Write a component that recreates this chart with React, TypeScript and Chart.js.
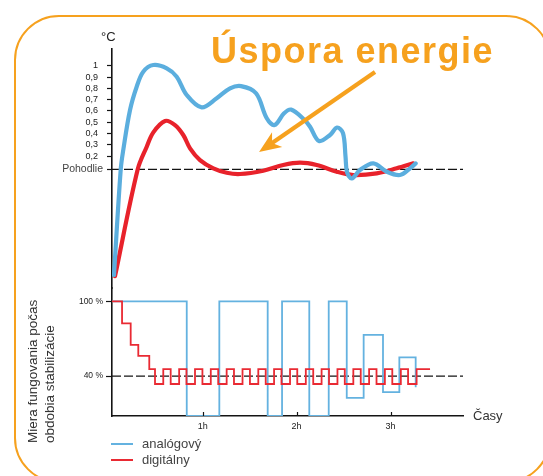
import React, { useEffect, useRef } from 'react';
import { Chart, registerables } from 'chart.js';

Chart.register(...registerables);

const FONT = '"Liberation Sans", Arial, Helvetica, sans-serif';
const ORANGE = '#F6A11E';
const BLUE = '#5BAEDE';
const RED = '#E8222B';
const BLUE_THIN = '#64B2E0';
const RED_THIN = '#E92A33';
const AXIS = '#141414';

// ---- shared x axis (hours) ----
const X_MIN = 0.034;
const X_MAX = 3.772;
const hourTicks = [1, 2, 3];
const hourLabels = ['1h', '2h', '3h'];
const xAxisTitle = 'Časy';

// ---- upper panel: temperature (°C) ----
const tempUnit = '°C';
const POHODLIE = 0.083;
const tempTicks = [POHODLIE, 0.2, 0.3, 0.4, 0.5, 0.6, 0.7, 0.8, 0.9, 1];
const tempLabels = ['Pohodlie', '0,2', '0,3', '0,4', '0,5', '0,6', '0,7', '0,8', '0,9', '1'];
const TEMP_MIN = -0.967;
const TEMP_MAX = 1.148;

const analogTempX = [0.055, 0.127, 0.154, 0.226, 0.297, 0.367, 0.474, 0.617, 0.723, 0.83, 0.989, 1.149, 1.291, 1.408, 1.568, 1.682, 1.765, 1.866, 1.94, 2.086, 2.143, 2.239, 2.356, 2.43, 2.494, 2.521, 2.537, 2.587, 2.675, 2.817, 2.96, 3.101, 3.208, 3.268];
const analogTempY = [-0.852, 0.083, 0.254, 0.608, 0.814, 0.947, 1.006, 0.977, 0.903, 0.741, 0.632, 0.712, 0.8, 0.82, 0.756, 0.535, 0.475, 0.579, 0.612, 0.519, 0.46, 0.334, 0.387, 0.453, 0.404, 0.195, 0.059, 0.003, 0.077, 0.136, 0.062, 0.033, 0.092, 0.136];

const digitalTempX = [0.066, 0.308, 0.404, 0.474, 0.599, 0.705, 0.793, 0.865, 0.971, 1.113, 1.256, 1.397, 1.645, 1.858, 2.036, 2.214, 2.427, 2.604, 2.853, 3.066, 3.243];
const digitalTempY = [-0.862, 0.083, 0.283, 0.41, 0.511, 0.475, 0.387, 0.269, 0.165, 0.092, 0.053, 0.042, 0.071, 0.121, 0.142, 0.121, 0.062, 0.033, 0.048, 0.092, 0.136];

// ---- lower panel: operating level (%) ----
const powerAxisTitle = ['Miera fungovania počas', 'obdobia stabilizácie'];
const POWER_MIN = 7.9;
const POWER_MAX = 110.7;
const powerTicks = [40, 100];
const powerLabels = ['40 %', '100 %'];

const analogPowerX = [0.034, 0.83, 1.177, 1.692, 1.845, 2.135, 2.342, 2.534, 2.714, 2.92, 3.094, 3.268];
const analogPowerY = [100, 8, 100, 8, 100, 8, 100, 22.5, 73, 27, 55, 31];

const digitalPowerX = [0.034, 0.141, 0.233, 0.314, 0.431, 0.492,
  0.58, 0.659, 0.749, 0.827, 0.918, 0.997, 1.086, 1.165, 1.255, 1.333, 1.424, 1.503, 1.592, 1.671, 1.76, 1.839,
  1.93, 2.007, 2.098, 2.177, 2.266, 2.345, 2.435, 2.513, 2.604, 2.683, 2.772, 2.851, 2.94, 3.019, 3.11, 3.187,
  3.278, 3.421];
const digitalPowerY = [100, 82.3, 65, 56.2, 45.6, 33.6,
  45.6, 33.6, 45.6, 33.6, 45.6, 33.6, 45.6, 33.6, 45.6, 33.6, 45.6, 33.6, 45.6, 33.6, 45.6, 33.6,
  45.6, 33.6, 45.6, 33.6, 45.6, 33.6, 45.6, 33.6, 45.6, 33.6, 45.6, 33.6, 45.6, 33.6, 45.6, 33.6,
  45.6, 45.6];

const seriesNames = ['analógový', 'digitálny'];
const titleText = 'Úspora energie';

// arrow annotation (hours, °C)
const arrowFrom = [2.835, 0.944];
const arrowTo = [1.6, 0.236];

const pts = (xs: number[], ys: number[]) => xs.map((x, i) => ({ x, y: ys[i] }));

const annotationPlugin = {
  id: 'annotationPlugin',
  afterDraw(chart: any) {
    const { ctx, scales, chartArea } = chart;
    const x = scales.x;
    const yt = scales.yt;
    ctx.save();
    ctx.strokeStyle = AXIS;
    ctx.lineWidth = 1.2;
    hourTicks.forEach((h) => {
      const px = Math.round(x.getPixelForValue(h)) + 0.5;
      ctx.beginPath();
      ctx.moveTo(px, chartArea.bottom);
      ctx.lineTo(px, chartArea.bottom - 4);
      ctx.stroke();
    });
    const sx = x.getPixelForValue(arrowFrom[0]);
    const sy = yt.getPixelForValue(arrowFrom[1]);
    const tx = x.getPixelForValue(arrowTo[0]);
    const ty = yt.getPixelForValue(arrowTo[1]);
    const dx = tx - sx;
    const dy = ty - sy;
    const len = Math.hypot(dx, dy);
    const ux = dx / len;
    const uy = dy / len;
    const nx = -uy;
    const ny = ux;
    const headLen = 22;
    const headW = 9;
    ctx.strokeStyle = ORANGE;
    ctx.fillStyle = ORANGE;
    ctx.lineWidth = 4.2;
    ctx.lineCap = 'butt';
    ctx.beginPath();
    ctx.moveTo(sx, sy);
    ctx.lineTo(tx - ux * 15, ty - uy * 15);
    ctx.stroke();
    ctx.beginPath();
    ctx.moveTo(tx, ty);
    ctx.lineTo(tx - ux * headLen + nx * headW, ty - uy * headLen + ny * headW);
    ctx.lineTo(tx - ux * headLen * 0.72, ty - uy * headLen * 0.72);
    ctx.lineTo(tx - ux * headLen - nx * headW, ty - uy * headLen - ny * headW);
    ctx.closePath();
    ctx.fill();
    ctx.restore();
  },
};

export default function App() {
  const canvasRef = useRef<HTMLCanvasElement | null>(null);

  useEffect(() => {
    if (!canvasRef.current) return;
    const chart = new Chart(canvasRef.current, {
      type: 'line',
      data: {
        datasets: [
          {
            label: seriesNames[0],
            data: pts(analogTempX, analogTempY),
            yAxisID: 'yt',
            borderColor: BLUE,
            borderWidth: 4.2,
            pointRadius: 0,
            tension: 0.35,
            borderCapStyle: 'round',
            borderJoinStyle: 'round',
            fill: false,
          },
          {
            label: seriesNames[1],
            data: pts(digitalTempX, digitalTempY),
            yAxisID: 'yt',
            borderColor: RED,
            borderWidth: 4.2,
            pointRadius: 0,
            tension: 0.35,
            borderCapStyle: 'round',
            borderJoinStyle: 'round',
            fill: false,
          },
          {
            label: seriesNames[1],
            data: pts(digitalPowerX, digitalPowerY),
            yAxisID: 'yb',
            stepped: 'before',
            borderColor: RED_THIN,
            borderWidth: 1.8,
            pointRadius: 0,
            fill: false,
          },
          {
            label: seriesNames[0],
            data: pts(analogPowerX, analogPowerY),
            yAxisID: 'yb',
            stepped: 'before',
            borderColor: BLUE_THIN,
            borderWidth: 1.8,
            pointRadius: 0,
            fill: false,
          },
          {
            label: tempLabels[0],
            data: pts([X_MIN, X_MAX], [POHODLIE, POHODLIE]),
            yAxisID: 'yt',
            borderColor: AXIS,
            borderWidth: 1.3,
            borderDash: [9, 3],
            pointRadius: 0,
            fill: false,
          },
          {
            label: powerLabels[0],
            data: pts([X_MIN, X_MAX], [40, 40]),
            yAxisID: 'yb',
            borderColor: AXIS,
            borderWidth: 1.3,
            borderDash: [9, 3],
            pointRadius: 0,
            fill: false,
          },
        ],
      },
      options: {
        responsive: false,
        animation: false,
        devicePixelRatio: 1,
        events: [],
        layout: { padding: { left: 42, right: 80, top: 49, bottom: 40 } },
        plugins: { legend: { display: false }, tooltip: { enabled: false }, title: { display: false } },
        scales: {
          x: {
            type: 'linear',
            position: 'bottom',
            min: X_MIN,
            max: X_MAX,
            z: 1,
            afterBuildTicks: (s: any) => { s.ticks = hourTicks.map((value) => ({ value })); },
            afterFit: (s: any) => { s.height = 20; },
            grid: { drawOnChartArea: false, drawTicks: false },
            border: { display: true, color: AXIS, width: 1.6 },
            ticks: {
              autoSkip: false,
              maxRotation: 0,
              padding: 5,
              color: '#222',
              font: { family: FONT, size: 9 },
              callback: (_v: any, i: number) => hourLabels[i],
            },
          },
          yb: {
            type: 'linear',
            position: 'left',
            stack: 'panels',
            stackWeight: 128,
            min: POWER_MIN,
            max: POWER_MAX,
            afterBuildTicks: (s: any) => { s.ticks = powerTicks.map((value) => ({ value })); },
            afterFit: (s: any) => { s.width = 70; },
            grid: { drawOnChartArea: false, drawTicks: true, tickLength: 6, tickColor: AXIS, tickWidth: 1.2 },
            border: { display: true, color: AXIS, width: 1.6 },
            ticks: {
              autoSkip: false,
              padding: 3,
              color: '#222',
              font: { family: FONT, size: 8.5 },
              callback: (_v: any, i: number) => powerLabels[i],
            },
          },
          yt: {
            type: 'linear',
            position: 'left',
            stack: 'panels',
            stackWeight: 239,
            min: TEMP_MIN,
            max: TEMP_MAX,
            afterBuildTicks: (s: any) => { s.ticks = tempTicks.map((value) => ({ value })); },
            afterFit: (s: any) => { s.width = 70; },
            grid: { drawOnChartArea: false, drawTicks: true, tickLength: 5, tickColor: AXIS, tickWidth: 1.2 },
            border: { display: true, color: AXIS, width: 1.6 },
            ticks: {
              autoSkip: false,
              padding: 4,
              color: (c: any) => (c.tick && c.tick.value === POHODLIE ? '#444' : '#1a1a1a'),
              font: (c: any) =>
                c.tick && c.tick.value === POHODLIE ? { family: FONT, size: 10.5 } : { family: FONT, size: 9 },
              callback: (v: any, i: number) => (v === POHODLIE ? tempLabels[i] : tempLabels[i] + '  '),
            },
          },
        },
      },
      plugins: [annotationPlugin],
    } as any);
    return () => chart.destroy();
  }, []);

  const abs = (s: React.CSSProperties): React.CSSProperties => ({ position: 'absolute', whiteSpace: 'nowrap', ...s });
  const legendColors = [BLUE_THIN, RED_THIN];

  return (
    <div style={{ position: 'fixed', left: 0, top: 0, width: 543, height: 476, overflow: 'hidden', background: '#fff', fontFamily: FONT }}>
      <div style={abs({ left: 13.5, top: 14.5, width: 537, height: 468, border: `2.5px solid ${ORANGE}`, borderRadius: 45, boxSizing: 'border-box' })} />
      <canvas ref={canvasRef} width={543} height={476} style={{ position: 'absolute', left: 0, top: 0 }} />
      <div style={abs({ left: 211, top: 33, fontSize: 36, lineHeight: '36px', fontWeight: 700, color: ORANGE, letterSpacing: '1.5px' })}>{titleText}</div>
      <div style={abs({ left: 101, top: 29, fontSize: 13, lineHeight: '15px', color: '#222' })}>{tempUnit}</div>
      <div style={abs({ left: 473, top: 408, fontSize: 13, lineHeight: '15px', color: '#333' })}>{xAxisTitle}</div>
      <div style={abs({ left: 24, top: 443, fontSize: 13.5, lineHeight: '17px', color: '#333', transform: 'rotate(-90deg)', transformOrigin: '0 0' })}>
        {powerAxisTitle[0]}<br />{powerAxisTitle[1]}
      </div>
      {seriesNames.map((name, i) => (
        <React.Fragment key={name}>
          <div style={abs({ left: 111, top: 443 + i * 16, width: 22, height: 2, background: legendColors[i] })} />
          <div style={abs({ left: 142, top: 436 + i * 16, fontSize: 13, lineHeight: '16px', color: '#444' })}>{name}</div>
        </React.Fragment>
      ))}
    </div>
  );
}
